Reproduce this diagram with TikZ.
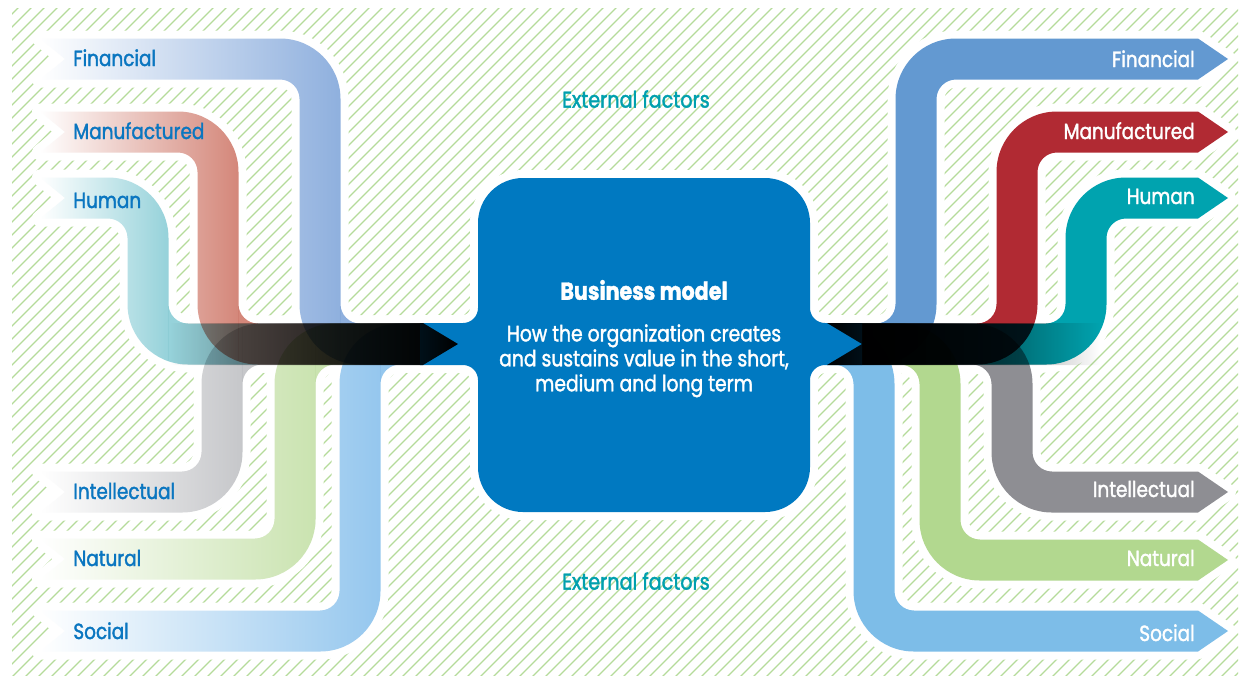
\documentclass[tikz,border=0pt]{standalone}
\usepackage{fontspec}
\setmainfont{Poppins}[FakeStretch=0.84, FakeBold=1.6]
\usetikzlibrary{positioning,fadings}
\definecolor{hatchgreen}{HTML}{B5DB9A}
\definecolor{labelblue}{HTML}{0A76C0}
\definecolor{boxblue}{HTML}{0079C1}
\definecolor{extteal}{HTML}{00A0AE}
\definecolor{finL}{HTML}{8FB0DE}
\definecolor{manL}{HTML}{D4877A}
\definecolor{humL}{HTML}{96D2DA}
\definecolor{intL}{HTML}{C6C7CA}
\definecolor{natL}{HTML}{CAE3B0}
\definecolor{socL}{HTML}{95C7EE}
\definecolor{finR}{HTML}{6399D1}
\definecolor{manR}{HTML}{B12A33}
\definecolor{humR}{HTML}{00A3AF}
\definecolor{intR}{HTML}{8E8E93}
\definecolor{natR}{HTML}{B2D88F}
\definecolor{socR}{HTML}{7DBDE8}
\tikzfading[name=blackin,left color=transparent!100,middle color=transparent!30,right color=transparent!0]
\tikzfading[name=blackout,left color=transparent!0,middle color=transparent!15,right color=transparent!100]
\newcommand\upleft[2]{(40,#1-20.5) -- (#2-40,#1-20.5) arc[start angle=270,end angle=360,radius=60.5] -- (#2+20.5,304) arc[start angle=180,end angle=90,radius=19.5] -- (440,323.5) -- (440,364.5) -- (#2+40,364.5) arc[start angle=90,end angle=180,radius=60.5] -- (#2-20.5,#1+40) arc[start angle=0,end angle=-90,radius=19.5] -- (40,#1+20.5) -- (65,#1) -- cycle}
\newcommand\lowleft[2]{(40,#1-20.5) -- (#2-40,#1-20.5) arc[start angle=90,end angle=0,radius=19.5] -- (#2-20.5,384) arc[start angle=180,end angle=270,radius=60.5] -- (440,323.5) -- (440,364.5) -- (#2+40,364.5) arc[start angle=270,end angle=180,radius=19.5] -- (#2+20.5,#1-40) arc[start angle=0,end angle=90,radius=60.5] -- (40,#1+20.5) -- (65,#1) -- cycle}
\newcommand\upright[2]{(827,323.5) -- (#2-40,323.5) arc[start angle=90,end angle=0,radius=19.5] -- (#2-20.5,#1+40) arc[start angle=180,end angle=270,radius=60.5] -- (1198,#1-20.5) -- (1228,#1) -- (1198,#1+20.5) -- (#2+40,#1+20.5) arc[start angle=270,end angle=180,radius=19.5] -- (#2+20.5,304) arc[start angle=0,end angle=90,radius=60.5] -- (827,364.5) -- cycle}
\newcommand\lowright[2]{(827,323.5) -- (#2-40,323.5) arc[start angle=270,end angle=360,radius=60.5] -- (#2+20.5,#1-40) arc[start angle=180,end angle=90,radius=19.5] -- (1198,#1-20.5) -- (1228,#1) -- (1198,#1+20.5) -- (#2+40,#1+20.5) arc[start angle=90,end angle=180,radius=60.5] -- (#2-20.5,384) arc[start angle=0,end angle=-90,radius=19.5] -- (827,364.5) -- cycle}
\newcommand\boxpath{(523,178) -- (765,178) arc[start angle=270,end angle=360,radius=45] -- (810,308) arc[start angle=180,end angle=90,radius=15] -- (862,323) -- (862,365) -- (825,365) arc[start angle=270,end angle=180,radius=15] -- (810,467) arc[start angle=0,end angle=90,radius=45] -- (523,512) arc[start angle=90,end angle=180,radius=45] -- (478,380) arc[start angle=0,end angle=-90,radius=15] -- (420,365) -- (420,323) -- (463,323) arc[start angle=90,end angle=0,radius=15] -- (478,223) arc[start angle=180,end angle=270,radius=45] -- cycle}
\begin{document}
\begin{tikzpicture}[x=0.02cm, y=-0.02cm,
  halo/.style={fill=white, draw=white, line width=0.32cm, line join=round},
  hatch/.style={hatchgreen, line width=0.7pt},
  lblL/.style={text=labelblue, font=\fontsize{12.5}{14}\selectfont, inner sep=0pt},
  lblR/.style={text=white, font=\fontsize{12.5}{14}\selectfont, inner sep=0pt},
  ext/.style={text=extteal, font=\fontsize{13}{14}\selectfont, inner sep=0pt}]
\useasboundingbox (0,0) rectangle (1239,677);
\fill[white] (0,0) rectangle (1239,677);
\begin{scope}
  \clip (12,8) rectangle (1238,675);
  \foreach \i in {-680,-667,...,1240} \draw[hatch] (\i,680) -- (\i+680,0);
\end{scope}
\foreach \c/\v in {59/320,132/218,198/148} \filldraw[halo] \upleft{\c}{\v};
\foreach \c/\v in {492/222,559/295,631/360} \filldraw[halo] \lowleft{\c}{\v};
\foreach \c/\v in {59/916,132/1017,198/1086} \filldraw[halo] \upright{\c}{\v};
\foreach \c/\v in {492/1012,560/940,631/874} \filldraw[halo] \lowright{\c}{\v};
\filldraw[halo] \boxpath;
\foreach \px/\py/\sx/\sy in {190.5/315.5/-1/-1,292.5/315.5/-1/-1,194.5/372.5/-1/1,267.5/372.5/-1/1,332.5/372.5/-1/1,
  943.5/315.5/1/-1,1044.5/315.5/1/-1,902/372.5/1/1,967.5/372.5/1/1,1039.5/372.5/1/1}
  \fill[white] (\px,\py) -- (\px+10*\sx,\py) .. controls (\px,\py) .. (\px,\py+10*\sy) -- cycle;
\begin{scope}[blend mode=multiply]
  \foreach \c/\v/\col in {59/320/finL,132/218/manL,198/148/humL}{
    \begin{scope}
      \clip \upleft{\c}{\v};
      \shade[left color=white, right color=\col] (40,0) rectangle (\v+20,677);
      \fill[\col] (\v+20,0) rectangle (460,677);
    \end{scope}}
  \foreach \c/\v/\col in {492/222/intL,559/295/natL,631/360/socL}{
    \begin{scope}
      \clip \lowleft{\c}{\v};
      \shade[left color=white, right color=\col] (40,0) rectangle (\v+20,677);
      \fill[\col] (\v+20,0) rectangle (460,677);
    \end{scope}}
  \foreach \c/\v/\col in {59/916/finR,132/1017/manR,198/1086/humR}
    \fill[\col] \upright{\c}{\v};
  \foreach \c/\v/\col in {492/1012/intR,560/940/natR,631/874/socR}
    \fill[\col] \lowright{\c}{\v};
\end{scope}
\fill[boxblue] \boxpath;
\fill[black, path fading=blackin] (170,323) -- (423,323) -- (458,344) -- (423,365) -- (170,365) -- cycle;
\fill[black, path fading=blackout] (827,323) -- (1100,323) -- (1100,365) -- (827,365) -- (862,344) -- cycle;
\node[lblL, anchor=base west] (inFin) at (73,66) {Financial};
\node[lblL, anchor=base west] (inMan) at (73,139) {Manufactured};
\node[lblL, anchor=base west] (inHum) at (73,208) {Human};
\node[lblL, anchor=base west] (inInt) at (73,499) {Intellectual};
\node[lblL, anchor=base west] (inNat) at (73,566) {Natural};
\node[lblL, anchor=base west] (inSoc) at (73,639) {Social};
\node[lblR, anchor=base east] (outFin) at (1195,67) {Financial};
\node[lblR, anchor=base east] (outMan) at (1195,139) {Manufactured};
\node[lblR, anchor=base east] (outHum) at (1195,204) {Human};
\node[lblR, anchor=base east] (outInt) at (1195,497) {Intellectual};
\node[lblR, anchor=base east] (outNat) at (1195,566) {Natural};
\node[lblR, anchor=base east] (outSoc) at (1195,641) {Social};
\node[ext] (extTop) at (636,99) {External factors};
\node[ext] (extBot) at (636,581) {External factors};
\node[text=white, font=\fontsize{14}{16}\selectfont\bfseries] (bm) at (644,290) {Business model};
\node[text=white, font=\fontsize{12.7}{14.2}\selectfont, align=center, below=0.24cm of bm] (how) {How the organization creates\\and sustains value in the short,\\medium and long term};
\end{tikzpicture}
\end{document}
